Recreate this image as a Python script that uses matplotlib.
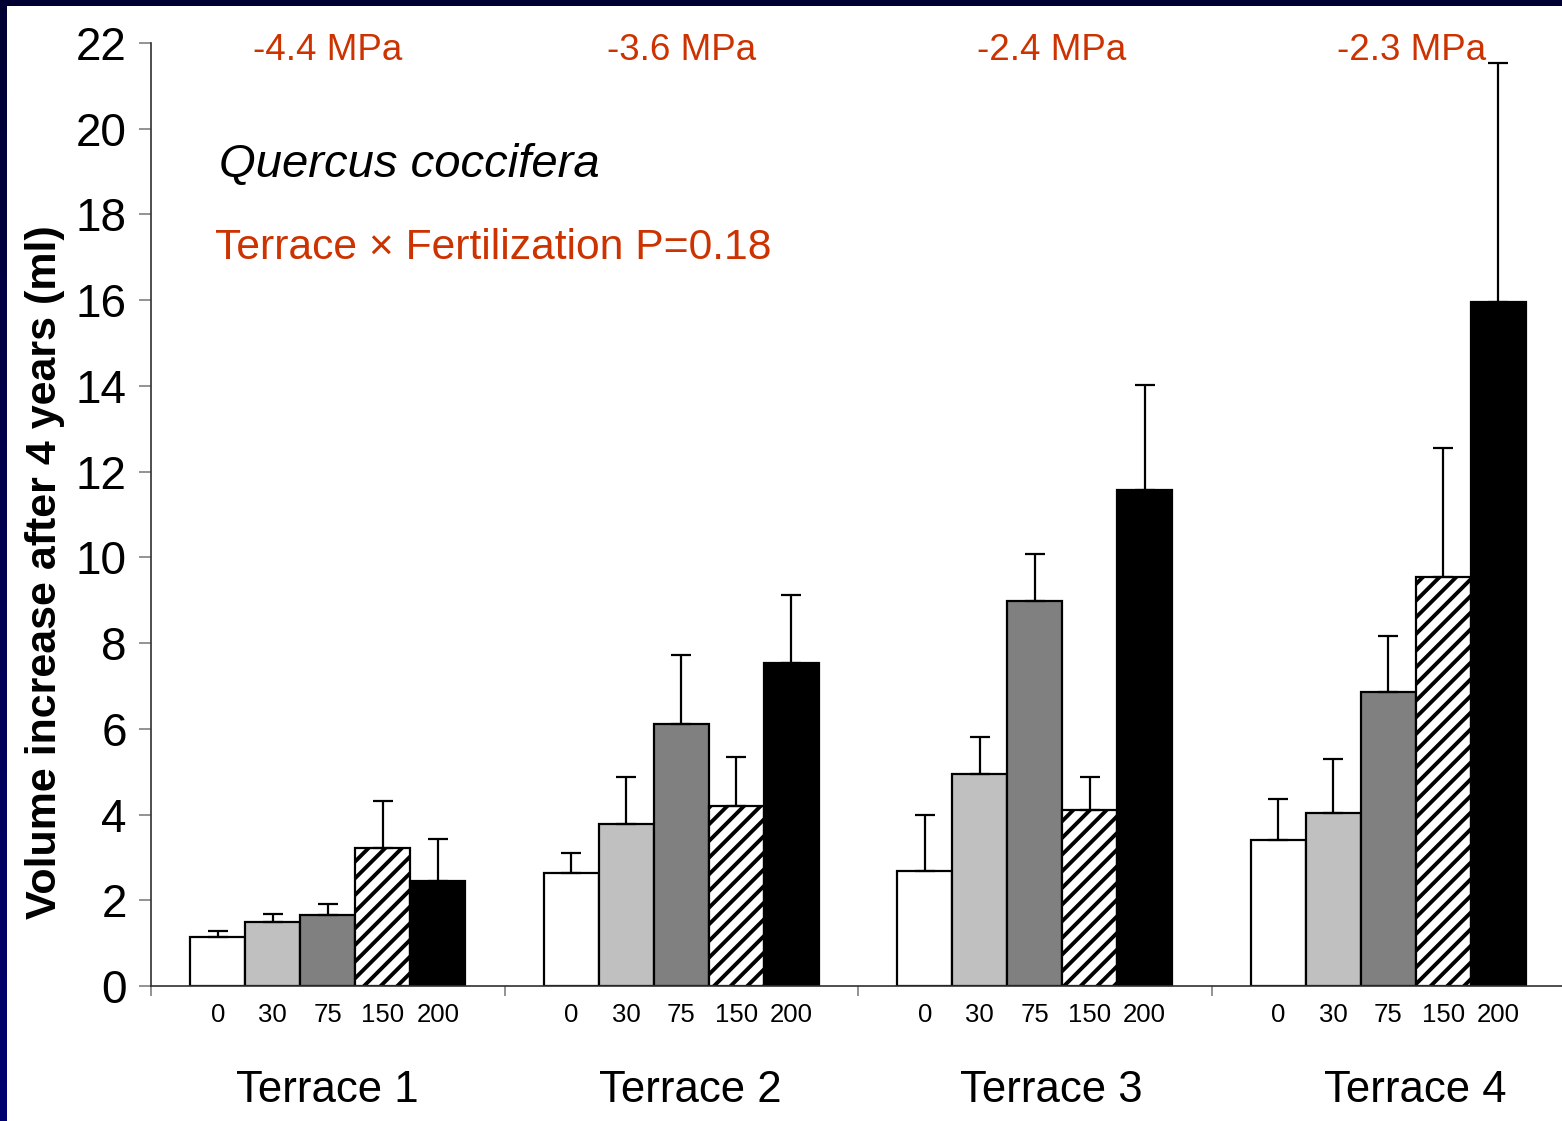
import matplotlib
matplotlib.use("Agg")
import matplotlib.pyplot as plt
import numpy as np
from matplotlib.colors import LinearSegmentedColormap

plt.rcParams['font.family'] = ['Liberation Sans', 'DejaVu Sans']
plt.rcParams['hatch.linewidth'] = 2.8

terraces = ["Terrace 1", "Terrace 2", "Terrace 3", "Terrace 4"]
fert_levels = ["0", "30", "75", "150", "200"]
psi_labels = ["-4.4 MPa", "-3.6 MPa", "-2.4 MPa", "-2.3 MPa"]

# mean volume increase (ml), rows = terrace, cols = fertilization level
means = [
    [1.14, 1.49, 1.66, 3.22, 2.45],
    [2.64, 3.78, 6.11, 4.20, 7.54],
    [2.68, 4.95, 8.98, 4.11, 11.57],
    [3.41, 4.04, 6.86, 9.54, 15.96],
]
# upper error bar tops (mean + SE)
err_tops = [
    [1.28, 1.68, 1.91, 4.32, 3.43],
    [3.10, 4.88, 7.72, 5.34, 9.12],
    [3.99, 5.81, 10.08, 4.88, 14.02],
    [4.36, 5.30, 8.17, 12.55, 21.53],
]

W, H = 1562, 1121
fig = plt.figure(figsize=(W / 100, H / 100), dpi=100)
fig.patch.set_facecolor('white')

# frame decorations (dark blue slide border)
bax = fig.add_axes([0, 0, 7 / W, 1])
grad = np.linspace(0, 1, 256).reshape(-1, 1)
cmap = LinearSegmentedColormap.from_list('b', ['#000070', '#000033'])
bax.imshow(grad, aspect='auto', cmap=cmap, origin='lower', extent=[0, 1, 0, 1])
bax.axis('off')
tax = fig.add_axes([0, 1 - 6 / H, 1, 6 / H])
tax.set_facecolor('#000033')
tax.set_xticks([]); tax.set_yticks([])
for s in tax.spines.values():
    s.set_visible(False)

ax = fig.add_axes([151 / W, 135 / H, 1414 / W, 943 / H])
ax.set_xlim(-0.5, 3.5)
ax.set_ylim(0, 22)

bw = 55 / 353.5
faces = ['white', '#C0C0C0', '#808080', 'white', 'black']
hatches = [None, None, None, '//', None]

minor_pos = []
minor_lab = []
for i in range(4):
    for j in range(5):
        x = i + (j - 2) * bw
        m = means[i][j]
        ax.bar(x, m, width=bw, color=faces[j], edgecolor='black',
               linewidth=1.6, hatch=hatches[j], zorder=2)
        ax.errorbar(x, m, yerr=[[0], [err_tops[i][j] - m]], fmt='none',
                    ecolor='black', elinewidth=1.6, capsize=7, capthick=1.6,
                    zorder=3)
        minor_pos.append(x)
        minor_lab.append(fert_levels[j])

ax.spines['top'].set_visible(False)
ax.spines['right'].set_visible(False)
for s in ['left', 'bottom']:
    ax.spines[s].set_color('#303030')
    ax.spines[s].set_linewidth(1.2)

ax.set_yticks(np.arange(0, 23, 2))
ax.set_yticklabels([str(v) for v in range(0, 23, 2)], fontsize=33)
ax.tick_params(axis='y', direction='out', length=8.5, width=1.2,
               color='#808080', pad=9)

ax.set_xticks([-0.5, 0.5, 1.5, 2.5, 3.5])
ax.set_xticklabels([])
ax.tick_params(axis='x', which='major', direction='out', length=7.5,
               width=1.2, color='#808080')
ax.set_xticks(minor_pos, minor=True)
ax.set_xticklabels(minor_lab, minor=True, fontsize=18.5)
ax.tick_params(axis='x', which='minor', length=0, pad=12.5)

fig.text(45 / W, 1 - 572 / H, "Volume increase after 4 years (ml)",
         fontsize=31, fontweight='bold', rotation=90, ha='center',
         va='center')

red = '#CC3300'
psi_px = [328, 682, 1052, 1412]
for lab, px in zip(psi_labels, psi_px):
    fig.text(px / W, 1 - 51 / H, lab, color=red, fontsize=26.5,
             ha='center', va='center')

terr_px = [327, 690, 1051, 1415]
for lab, px in zip(terraces, terr_px):
    fig.text(px / W, 1 - 1091 / H, lab, fontsize=31.5, ha='center',
             va='center')

fig.text(219 / W, 1 - 165 / H, "Quercus coccifera", fontsize=34,
         style='italic', ha='left', va='center')
fig.text(215 / W, 1 - 248 / H, "Terrace \u00d7 Fertilization P=0.18",
         fontsize=30.7, color=red, ha='left', va='center')

fig.savefig("out.png", dpi=100)
